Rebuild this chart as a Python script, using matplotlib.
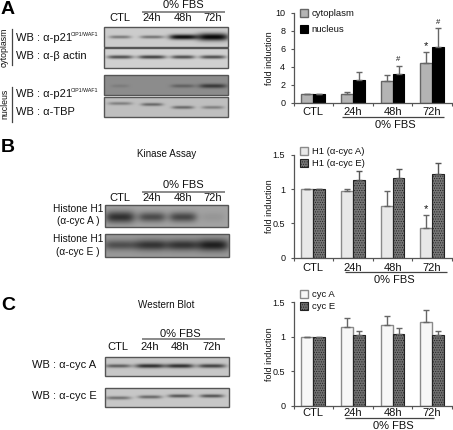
import numpy as np
import matplotlib
matplotlib.use("Agg")
import matplotlib.pyplot as plt
from matplotlib.patches import Rectangle

plt.rcParams['font.family'] = ['Liberation Sans', 'DejaVu Sans']
plt.rcParams['hatch.linewidth'] = 0.45

W, H = 453, 430

# ---------- data ----------
groups = ['CTL', '24h', '48h', '72h']
a_cyt = [1.0, 1.0, 2.4, 4.45]
a_cyt_err = [0.0, 0.2, 0.7, 1.2]
a_nuc = [1.0, 2.55, 3.2, 6.2]
a_nuc_err = [0.0, 0.9, 0.95, 2.1]
b_a = [1.0, 0.97, 0.75, 0.43]
b_a_err = [0.0, 0.03, 0.23, 0.19]
b_e = [1.0, 1.13, 1.17, 1.22]
b_e_err = [0.0, 0.13, 0.13, 0.17]
c_a = [1.0, 1.14, 1.17, 1.22]
c_a_err = [0.0, 0.13, 0.13, 0.17]
c_e = [1.0, 1.02, 1.04, 1.03]
c_e_err = [0.0, 0.06, 0.08, 0.05]

# band darkness per lane, read from each blot
blot_a1 = [0.42, 0.45, 0.98, 1.0]
blot_a2 = [0.65, 0.72, 0.65, 0.65]
blot_a3 = [0.12, 0.0, 0.32, 0.62]
blot_a4 = [0.35, 0.48, 0.48, 0.35]
blot_b1 = [0.72, 0.55, 0.58, 0.08]
blot_b2 = [0.50, 0.68, 0.68, 0.82]
blot_c1 = [0.55, 0.80, 0.80, 0.70]
blot_c2 = [0.45, 0.50, 0.60, 0.62]

fig = plt.figure(figsize=(W / 100, H / 100), dpi=100)
ov = fig.add_axes([0, 0, 1, 1], zorder=5)
ov.patch.set_alpha(0)
ov.axis('off')


def txt(x, y, s, size=8, ha='left', va='center', **kw):
    ov.text(x, y, s, fontsize=size, ha=ha, va=va, color=kw.pop('color', '#111111'), **kw)


def hline(x0, x1, y, color='#444444', lw=1.0):
    ov.plot([x0, x1], [y, y], color=color, lw=lw, solid_capstyle='butt')


def blot(x0, x1, y0, y1, bg, bands, lanes, yf, sig, half, tilt=(0, 0, 0, 0)):
    w, h = int((x1 - x0) * 2), int((y1 - y0) * 2)
    xx, yy = np.meshgrid(np.linspace(x0, x1, w), np.linspace(y0, y1, h))
    dark = np.zeros_like(xx)
    for lane, b, s, hw, t in zip(lanes, bands, sig, half, tilt):
        yc = y0 + (y1 - y0) * yf + t
        dark += b * np.exp(-((xx - lane) / hw) ** 4) * np.exp(-((yy - yc) / s) ** 2)
    img = bg * (1 - np.clip(dark, 0, 1) * 0.97)
    ov.imshow(img, cmap='gray', vmin=0, vmax=1, extent=[x0, x1, y1, y0],
              aspect='auto', interpolation='bilinear', zorder=1)
    ov.add_patch(Rectangle((x0, y0), x1 - x0, y1 - y0, fill=False,
                           edgecolor='#555555', lw=1.0, zorder=2))


lanesA = [120, 152, 183, 213]
lanesC = [118, 150, 180, 212]


def lane_header(lanes, y_fbs, y_line, y_lab, x_fbs):
    txt(x_fbs, y_fbs, '0% FBS', 8, ha='center')
    hline(142, 225, y_line, color='#777777', lw=1.2)
    for x, g in zip(lanes, groups):
        txt(x, y_lab, g, 8, ha='center')


# ---------- panel A blots ----------
txt(1, 9.5, 'A', 14, fontweight='bold', color='black')
lane_header(lanesA, 5.5, 12, 18, 183)
blot(104, 228, 27, 47, 0.80, blot_a1, lanesA, 0.5, [1.6, 1.6, 2.6, 3.8], [11, 12, 14, 16])
blot(104, 228, 48, 68, 0.82, blot_a2, lanesA, 0.45, [1.8] * 4, [13, 14, 12, 13])
blot(104, 228, 75, 95, 0.55, blot_a3, lanesA, 0.55, [1.6, 1.6, 1.8, 2.2], [9, 9, 12, 14])
blot(104, 228, 97, 117, 0.75, blot_a4, lanesA, 0.42, [1.6] * 4, [12, 11, 11, 11], tilt=(-2, -1, 2, 2))
txt(16, 38, 'WB : α-p21', 8)
txt(71, 34.5, 'CIP1/WAF1', 3.8)
txt(16, 56, 'WB : α-β actin', 8)
txt(16, 94, 'WB : α-p21', 8)
txt(71, 90.5, 'CIP1/WAF1', 3.8)
txt(16, 112, 'WB : α-TBP', 8)
txt(4.5, 47, 'cytoplasm', 6.3, ha='center', rotation=90)
txt(4.5, 104, 'nucleus', 6.3, ha='center', rotation=90)
ov.plot([12, 12], [29, 65], color='#444444', lw=0.9)
ov.plot([12, 12], [87, 122], color='#444444', lw=0.9)

# ---------- panel B blots ----------
txt(1, 148, 'B', 14, fontweight='bold', color='black')
txt(167, 154, 'Kinase Assay', 7.1, ha='center')
lane_header(lanesA, 185, 192, 198, 183)
blot(105, 228, 205, 227, 0.64, blot_b1, lanesA, 0.55, [6, 5, 5, 5], [15, 14, 14, 12])
blot(105, 229, 234, 257, 0.60, blot_b2, lanesA, 0.48, [5, 5.5, 5.5, 6], [17, 17, 15, 16])
txt(78, 209, 'Histone H1', 7.3, ha='center')
txt(78, 221, '(α-cyc A )', 7.3, ha='center')
txt(78, 239, 'Histone H1', 7.3, ha='center')
txt(78, 252, '(α-cyc E )', 7.3, ha='center')

# ---------- panel C blots ----------
txt(1, 305, 'C', 14, fontweight='bold', color='black')
txt(166, 305, 'Western Blot', 7.1, ha='center')
lane_header(lanesC, 334, 339, 347, 180)
blot(105, 229, 357, 376, 0.78, blot_c1, lanesC, 0.47, [1.8, 2.1, 2.1, 2.0], [13, 15, 14, 14])
blot(105, 229, 388, 407, 0.78, blot_c2, lanesC, 0.47, [1.7] * 4, [13, 12, 12, 12], tilt=(1, 0, -1, -1))
txt(32, 365, 'WB : α-cyc A', 8)
txt(32, 396, 'WB : α-cyc E', 8)


# ---------- bar charts ----------
def chart(y_top, y_bot, ymax, yticks, yticklabels, s1, e1, s2, e2, lab1, lab2,
          st1, st2, ecol1, ecol2, leg_y, leg_sp, xpad):
    x0, x1 = 293.5, 452
    ax = fig.add_axes([x0 / W, 1 - y_bot / H, (x1 - x0) / W, (y_bot - y_top) / H], zorder=2)
    pos = np.arange(len(groups))
    bw = 0.30
    b1 = ax.bar(pos - bw / 2, s1, bw, label=lab1, **st1)
    b2 = ax.bar(pos + bw / 2, s2, bw, label=lab2, **st2)
    ax.errorbar(pos - bw / 2, s1, yerr=[np.zeros(4), e1], fmt='none', ecolor=ecol1,
                elinewidth=1, capsize=2, capthick=1)
    ax.errorbar(pos + bw / 2, s2, yerr=[np.zeros(4), e2], fmt='none', ecolor=ecol2,
                elinewidth=1, capsize=2, capthick=1)
    ax.set_xlim(-0.5, 3.5)
    ax.set_ylim(0, ymax)
    ax.set_yticks(yticks)
    ax.set_yticklabels(yticklabels, fontsize=6.5, color='#111111')
    ax.set_xticks(pos)
    ax.set_xticklabels(groups, fontsize=8, color='#111111')
    ax.set_xticks(np.arange(-0.5, 4.0, 1), minor=True)
    ax.tick_params(axis='x', which='major', length=0, pad=xpad)
    ax.tick_params(axis='x', which='minor', length=2.5, width=0.8, color='#555555')
    ax.tick_params(axis='y', length=2.5, width=0.8, color='#555555', pad=3.5)
    for s in ('top', 'right'):
        ax.spines[s].set_visible(False)
    for s in ('left', 'bottom'):
        ax.spines[s].set_color('#555555')
        ax.spines[s].set_linewidth(0.9)
    ax.set_ylabel('fold induction', fontsize=6.5, color='#111111')
    ax.yaxis.set_label_coords((273.5 - x0) / (x1 - x0), 0.5)
    ax.patch.set_alpha(0)
    ax.legend(handles=[b1, b2], loc='upper left', frameon=False, fontsize=6.8,
              bbox_to_anchor=((302 - x0) / (x1 - x0) - 0.045, (y_bot - leg_y) / (y_bot - y_top)),
              borderaxespad=0.3, borderpad=0.2, handlelength=0.9, handleheight=0.9,
              handletextpad=0.4, labelspacing=leg_sp, labelcolor='#111111')
    return ax


axA = chart(12.7, 103, 10, [0, 2, 4, 6, 8, 10], ['0', '2', '4', '6', '8', '10'],
            a_cyt, a_cyt_err, a_nuc, a_nuc_err, 'cytoplasm', 'nucleus',
            dict(facecolor='#b4b4b4', edgecolor='#666666', linewidth=1.0),
            dict(facecolor='#000000', edgecolor='#000000', linewidth=0.8),
            '#666666', '#666666', 4, 0.72, 2.8)
axB = chart(155, 257.7, 1.5, [0, 0.5, 1, 1.5], ['0', '0.5', '1', '1.5'],
            b_a, b_a_err, b_e, b_e_err, 'H1 (α-cyc A)', 'H1 (α-cyc E)',
            dict(facecolor='#e8e8e8', edgecolor='#8a8a8a', linewidth=1.0),
            dict(facecolor='#757575', edgecolor='#222222', linewidth=0.8, hatch='.......'),
            '#666666', '#555555', 142, 0.3, 3.5)
axC = chart(302.3, 405.7, 1.5, [0, 0.5, 1, 1.5], ['0', '0.5', '1', '1.5'],
            c_a, c_a_err, c_e, c_e_err, 'cyc A', 'cyc E',
            dict(facecolor='#f7f7f7', edgecolor='#8a8a8a', linewidth=1.0),
            dict(facecolor='#6e6e6e', edgecolor='#222222', linewidth=0.8, hatch='.......'),
            '#666666', '#666666', 285, 0.3, 2.0)

# significance marks
axA.text(3 - 0.15, a_cyt[3] + a_cyt_err[3] + 0.1, '*', fontsize=8, ha='center', va='bottom', color='#111111')
axA.text(2 + 0.15, a_nuc[2] + a_nuc_err[2] + 0.25, '#', fontsize=5.5, ha='center', va='bottom', color='#111111')
axA.text(3 + 0.15, a_nuc[3] + a_nuc_err[3] + 0.25, '#', fontsize=5.5, ha='center', va='bottom', color='#111111')
axB.text(3 - 0.15, b_a[3] + b_a_err[3] + 0.01, '*', fontsize=8, ha='center', va='bottom', color='#111111')

# 0% FBS brackets under the charts
for xa, xb, yl, xt, yt in [(342, 444, 117, 395, 124.5),
                           (345, 447, 272, 394, 280),
                           (345, 434, 418, 393, 426)]:
    hline(xa, xb, yl, color='#444444', lw=0.9)
    txt(xt, yt, '0% FBS', 8, ha='center')

ov.set_xlim(0, W)
ov.set_ylim(H, 0)
fig.savefig('out.png', dpi=100)
